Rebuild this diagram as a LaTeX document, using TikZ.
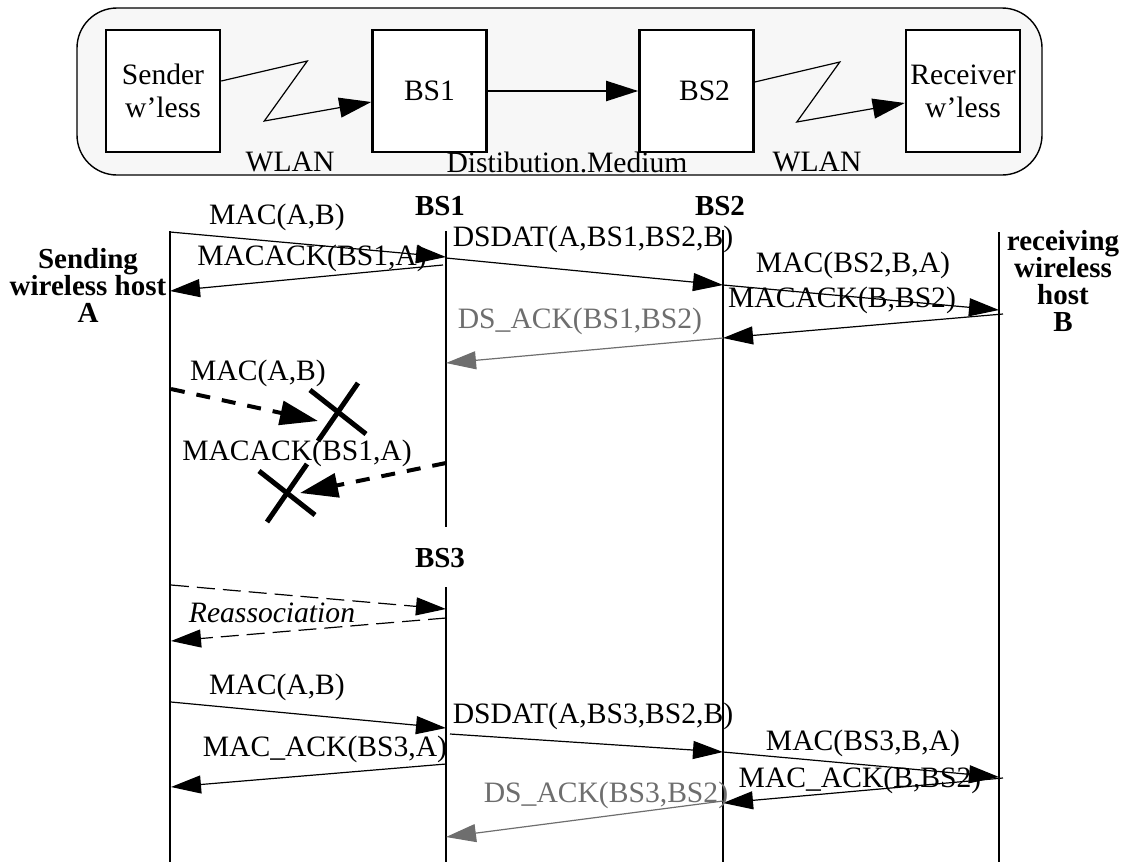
\documentclass[tikz,border=0pt]{standalone}
\usepackage{fontspec}
\setmainfont{Liberation Serif}
\usetikzlibrary{arrows.meta, positioning, calc}
\definecolor{cgray}{HTML}{6E6E6E}
\definecolor{cpanel}{HTML}{F7F7F7}

\tikzset{
  station/.style={draw, line width=1.3pt, fill=white, minimum width=57pt, minimum height=61pt, align=center, inner sep=0pt, font=\fontsize{14.8}{16.5}\selectfont},
  lifeline/.style={line width=1.3pt},
  msg/.style={line width=0.6pt, -{Triangle[length=15pt, width=9pt]}},
  lost/.style={line width=2pt, dash pattern=on 7pt off 6pt, -{Triangle[length=19pt, width=12pt]}},
  reassoc/.style={line width=0.6pt, dash pattern=on 9pt off 4pt, -{Triangle[length=15pt, width=9pt]}},
  cross/.style={line width=2.5pt},
  lbl/.style={inner sep=0pt, font=\fontsize{14.8}{16}\selectfont},
  actor/.style={inner sep=0pt, align=center, font=\fontsize{14.5}{13.5}\selectfont\bfseries},
}

\begin{document}
\begin{tikzpicture}[x=0.5pt, y=-0.5pt]
    \useasboundingbox (0,0) rectangle (1124,862);
    % network overview
    \draw[line width=0.7pt, fill=cpanel, rounded corners=20pt] (77,8) rectangle (1042,175);
    \node[station] (snd) at (163,91) {Sender\\w'less};
    \node[station] (bs1) at (429.5,91) {BS1};
    \node[station] (bs2) at (696.5,91) {\hspace*{8pt}BS2};
    \node[station] (rcv) at (963,91) {Receiver\\w'less};
    \draw[msg, -{Triangle[length=16pt, width=10pt]}] ([yshift=5pt]snd.east) -- ++(86,-20) -- ++(-43,60) -- ([yshift=-5.5pt]bs1.west);
    \draw[msg, line width=1pt, -{Triangle[length=16pt, width=10pt]}] (bs1) -- (bs2);
    \draw[msg, -{Triangle[length=16pt, width=10pt]}] ([yshift=4.5pt]bs2.east) -- ++(85,-20) -- ++(-43,60) -- ([yshift=-6pt]rcv.west);
    \node[lbl] (wl1) at (290,162) {WLAN};
    \node[lbl] (dsm) at (567,162) {Distibution.Medium};
    \node[lbl] (wl2) at (817,162) {WLAN};

    % stations of the time chart
    \node[actor] (hA) at (88,285) {Sending\\wireless host\\A};
    \node[actor] (hB) at (1063,281) {receiving\\wireless\\host\\B};
    \node[actor] (sb1) at (440,206) {BS1};
    \node[actor] (sb2) at (720,206) {BS2};
    \node[actor] (sb3) at (440,558) {BS3};
    \foreach \x/\t/\b in {170/231/862, 446/231/527, 446/587/862, 723/230/862, 999/232/862}
        \draw[lifeline] (\x,\t) -- (\x,\b);

    % first transfer
    \coordinate (m1s) at (170,232); \coordinate (m1e) at (446,257);
    \coordinate (m2s) at (443,265); \coordinate (m2e) at (170,291);
    \coordinate (m3s) at (446,258); \coordinate (m3e) at (723,285);
    \coordinate (m4s) at (723,285); \coordinate (m4e) at (999,310);
    \coordinate (m5s) at (1003,314); \coordinate (m5e) at (723,338);
    \coordinate (m6s) at (723,338); \coordinate (m6e) at (446,363);
    \draw[msg] (m1s) -- (m1e);
    \draw[msg] (m2s) -- (m2e);
    \draw[msg] (m3s) -- (m3e);
    \draw[msg] (m4s) -- (m4e);
    \draw[msg] (m5s) -- (m5e);
    \draw[msg, draw=cgray] (m6s) -- (m6e);
    \node[lbl] (t1) at (277,217) {MAC(A,B)};
    \node[lbl] (t2) at (312,258) {MACACK(BS1,A)};
    \node[lbl] (t3) at (593,239) {DSDAT(A,BS1,BS2,B)};
    \node[lbl] (t4) at (853,265) {MAC(BS2,B,A)};
    \node[lbl] (t5) at (842,300) {MACACK(B,BS2)};
    \node[lbl, text=cgray] (t6) at (580,321) {DS\_ACK(BS1,BS2)};

    % lost frames
    \coordinate (l1s) at (171,389); \coordinate (l1e) at (318,421);
    \coordinate (l2s) at (446,463); \coordinate (l2e) at (300,493);
    \draw[lost] (l1s) -- (l1e);
    \draw[lost] (l2s) -- (l2e);
    \node[lbl] (t7) at (258,373) {MAC(A,B)};
    \node[lbl] (t8) at (297,453) {MACACK(BS1,A)};
    \coordinate (x1) at (338,412);
    \coordinate (x2) at (287,493);
    \foreach \c in {x1,x2} {
        \draw[cross] ($(\c)+(-28,-22)$) -- ($(\c)+(28,22)$);
        \draw[cross] ($(\c)+(20,-29)$) -- ($(\c)+(-20,29)$);
    }

    % reassociation
    \coordinate (r1s) at (171,585); \coordinate (r1e) at (446,609);
    \coordinate (r2s) at (446,618); \coordinate (r2e) at (171,641);
    \draw[reassoc] (r1s) -- (r1e);
    \draw[reassoc] (r2s) -- (r2e);
    \node[lbl, font=\fontsize{14.8}{16}\selectfont\itshape] (t9) at (272,613) {Reassociation};

    % second transfer
    \coordinate (n1s) at (171,702); \coordinate (n1e) at (446,728);
    \coordinate (n2s) at (446,764); \coordinate (n2e) at (171,787);
    \coordinate (n3s) at (450,734); \coordinate (n3e) at (723,752);
    \coordinate (n4s) at (723,752); \coordinate (n4e) at (999,777);
    \coordinate (n5s) at (1003,778); \coordinate (n5e) at (723,803);
    \coordinate (n6s) at (723,801); \coordinate (n6e) at (446,837);
    \draw[msg] (n1s) -- (n1e);
    \draw[msg] (n2s) -- (n2e);
    \draw[msg] (n3s) -- (n3e);
    \draw[msg] (n4s) -- (n4e);
    \draw[msg] (n5s) -- (n5e);
    \draw[msg, draw=cgray] (n6s) -- (n6e);
    \node[lbl] (u1) at (277,687) {MAC(A,B)};
    \node[lbl] (u2) at (593,716) {DSDAT(A,BS3,BS2,B)};
    \node[lbl] (u3) at (325,749) {MAC\_ACK(BS3,A)};
    \node[lbl] (u4) at (863,743) {MAC(BS3,B,A)};
    \node[lbl] (u5) at (860,780) {MAC\_ACK(B,BS2)};
    \node[lbl, text=cgray] (u6) at (606,795) {DS\_ACK(BS3,BS2)};
\end{tikzpicture}
\end{document}
